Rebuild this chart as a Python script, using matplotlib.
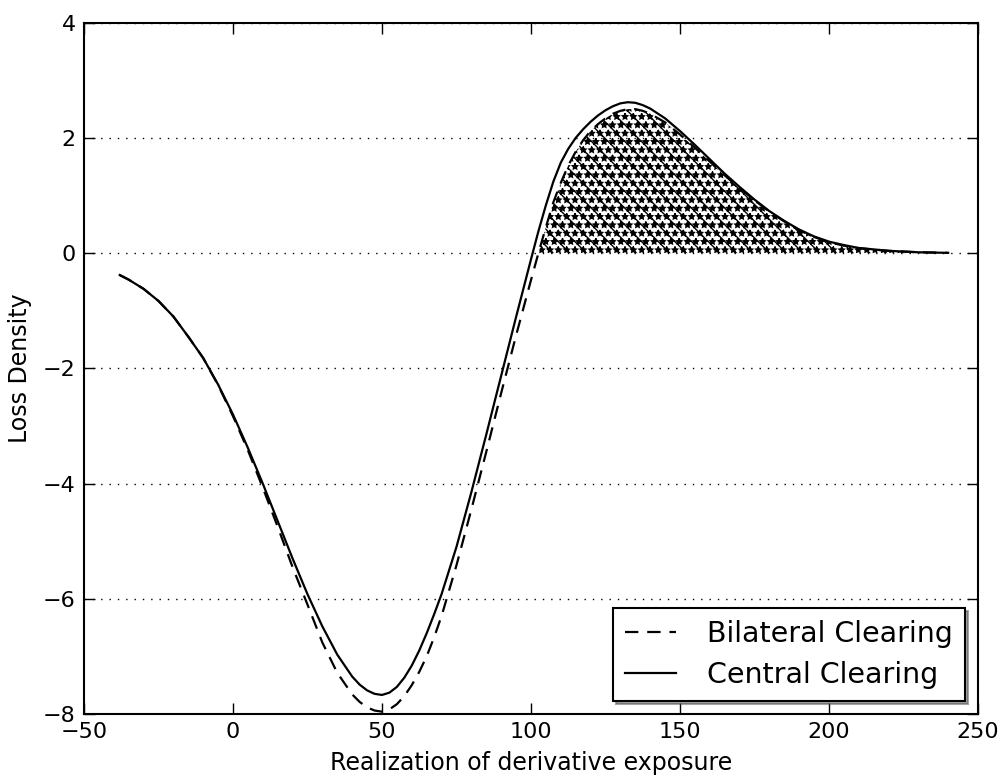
import numpy as np
import matplotlib
matplotlib.use("Agg")
import matplotlib.pyplot as plt

# Realization of derivative exposure
x = [-38, -35, -30, -25, -20, -15, -10, -5, 0, 5, 10, 15, 20, 25, 30, 35, 40,
     42.5, 45, 47.5, 50, 52.5, 55, 57.5, 60, 62.5, 65, 67.5, 70, 75, 80, 85, 90, 95,
     100, 102.5, 105, 107.5, 110, 112.5, 115, 117.5, 120, 122.5, 125, 127.5, 130,
     132.5, 135, 137.5, 140, 145, 150, 155, 160, 165, 170, 175, 180, 185, 190, 195,
     200, 205, 210, 220, 230, 240]

central = [-0.38, -0.46, -0.62, -0.83, -1.10, -1.45, -1.82, -2.28, -2.80, -3.38, -4.00,
           -4.65, -5.30, -5.92, -6.48, -6.97, -7.35,
           -7.49, -7.59, -7.65, -7.67, -7.63, -7.53, -7.37, -7.16, -6.90, -6.60, -6.27,
           -5.92, -5.10, -4.15, -3.15, -2.13, -1.11,
           -0.11, 0.38, 0.83, 1.24, 1.57, 1.81, 2.00, 2.15, 2.28, 2.39, 2.48, 2.55, 2.60,
           2.62, 2.61, 2.57, 2.51, 2.34, 2.12, 1.88, 1.63, 1.38, 1.15, 0.93, 0.73, 0.56,
           0.41, 0.29, 0.20, 0.14, 0.09, 0.04, 0.015, 0.005]

bilateral = [-0.38, -0.46, -0.62, -0.83, -1.10, -1.45, -1.82, -2.29, -2.83, -3.42, -4.07,
             -4.75, -5.45, -6.10, -6.76, -7.285, -7.66,
             -7.79, -7.885, -7.94, -7.96, -7.92, -7.83, -7.69, -7.50, -7.27, -7.00, -6.67,
             -6.30, -5.42, -4.45, -3.45, -2.43, -1.43,
             -0.47, 0.0, 0.45, 0.88, 1.22, 1.52, 1.76, 1.96, 2.12, 2.24, 2.34, 2.42, 2.47,
             2.50, 2.50, 2.47, 2.42, 2.27, 2.06, 1.83, 1.59, 1.35, 1.13, 0.92, 0.72, 0.55,
             0.40, 0.28, 0.19, 0.13, 0.085, 0.04, 0.015, 0.005]

xticks = [-50, 0, 50, 100, 150, 200, 250]
yticks = [-8, -6, -4, -2, 0, 2, 4]

plt.rcParams['font.family'] = ['DejaVu Sans']
plt.rcParams['hatch.linewidth'] = 1.0

fig = plt.figure(figsize=(10.02, 7.78), dpi=100)
ax = fig.add_axes([0.0838, 0.0823, 0.8922, 0.8885])

xa = np.array(x, dtype=float)
ba = np.array(bilateral)
ca = np.array(central)

ax.plot(xa, ba, color='black', linestyle='--', linewidth=1.6, dashes=(6, 4),
        label='Bilateral Clearing')
ax.plot(xa, ca, color='black', linestyle='-', linewidth=1.6,
        label='Central Clearing')
ax.fill_between(xa, 0, ba, where=ba >= 0, interpolate=True, facecolor='none',
                edgecolor='black', hatch='\\\\**', linewidth=0)

ax.set_xlim(-50, 250)
ax.set_ylim(-8, 4)
ax.set_xticks(xticks)
ax.set_yticks(yticks)
ax.set_xticklabels([f"\u2212{abs(v)}" if v < 0 else str(v) for v in xticks])
ax.set_yticklabels([f"\u2212{abs(v)}" if v < 0 else str(v) for v in yticks])
ax.yaxis.grid(True, linestyle=(0, (1, 5)), color='black', linewidth=1.0)
ax.set_axisbelow(True)

ax.tick_params(direction='in', length=8, width=1, labelsize=16, top=True, right=True,
               pad=6)
for s in ax.spines.values():
    s.set_linewidth(1.5)

ax.set_xlabel('Realization of derivative exposure', fontsize=17, labelpad=6)
ax.set_ylabel('Loss Density', fontsize=17, labelpad=8)

leg = ax.legend(loc='lower right', fontsize=20.5, frameon=True, fancybox=False,
                shadow=True, borderpad=0.42, handlelength=1.8, handletextpad=1.1,
                borderaxespad=0.45, labelspacing=0.45)
leg.get_frame().set_edgecolor('black')
leg.get_frame().set_linewidth(1.5)

fig.savefig('out.png', dpi=100)
